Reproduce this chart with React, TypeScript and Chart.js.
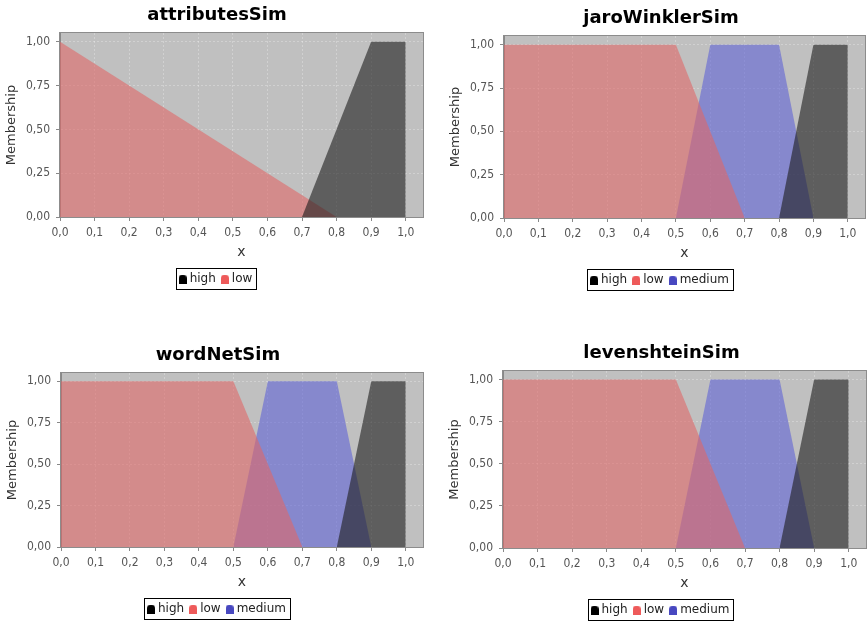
import React, { useEffect, useRef } from "react";
import { Chart, registerables } from "chart.js";

Chart.register(...registerables);

// ---------- tick values ----------
const X_TICK_VALUES = [0, 0.1, 0.2, 0.3, 0.4, 0.5, 0.6, 0.7, 0.8, 0.9, 1.0];
const Y_TICK_VALUES = [0, 0.25, 0.5, 0.75, 1.0];

// ---------- attributesSim ----------
const ATTR_HIGH_X = [0.7, 0.9, 1.0, 1.0];
const ATTR_HIGH_Y = [0, 1, 1, 0];
const ATTR_LOW_X = [0.0, 0.8];
const ATTR_LOW_Y = [1, 0];

// ---------- jaroWinklerSim ----------
const JW_HIGH_X = [0.8, 0.9, 1.0, 1.0];
const JW_HIGH_Y = [0, 1, 1, 0];
const JW_LOW_X = [0.0, 0.5, 0.7];
const JW_LOW_Y = [1, 1, 0];
const JW_MED_X = [0.5, 0.6, 0.8, 0.9];
const JW_MED_Y = [0, 1, 1, 0];

// ---------- wordNetSim ----------
const WN_HIGH_X = [0.8, 0.9, 1.0, 1.0];
const WN_HIGH_Y = [0, 1, 1, 0];
const WN_LOW_X = [0.0, 0.5, 0.7];
const WN_LOW_Y = [1, 1, 0];
const WN_MED_X = [0.5, 0.6, 0.8, 0.9];
const WN_MED_Y = [0, 1, 1, 0];

// ---------- levenshteinSim ----------
const LEV_HIGH_X = [0.8, 0.9, 1.0, 1.0];
const LEV_HIGH_Y = [0, 1, 1, 0];
const LEV_LOW_X = [0.0, 0.5, 0.7];
const LEV_LOW_Y = [1, 1, 0];
const LEV_MED_X = [0.5, 0.6, 0.8, 0.9];
const LEV_MED_Y = [0, 1, 1, 0];

// ---------- styles ----------
const SERIES_STYLE: Record<string, { fill: string; icon: string }> = {
  high: { fill: "rgba(29,29,29,0.6)", icon: "#000000" },
  low: { fill: "rgba(224,104,104,0.6)", icon: "#ee5a5a" },
  medium: { fill: "rgba(95,99,214,0.6)", icon: "#4848c0" },
};

type Series = { name: string; xs: number[]; ys: number[] };
type PanelDef = {
  title: string;
  series: Series[];
  left: number;
  top: number;
  width: number;
  plotH: number;
  padRight: number;
};

const PANELS: PanelDef[] = [
  {
    title: "attributesSim",
    series: [
      { name: "high", xs: ATTR_HIGH_X, ys: ATTR_HIGH_Y },
      { name: "low", xs: ATTR_LOW_X, ys: ATTR_LOW_Y },
    ],
    left: 0, top: 0, width: 434, plotH: 184, padRight: 11,
  },
  {
    title: "jaroWinklerSim",
    series: [
      { name: "high", xs: JW_HIGH_X, ys: JW_HIGH_Y },
      { name: "low", xs: JW_LOW_X, ys: JW_LOW_Y },
      { name: "medium", xs: JW_MED_X, ys: JW_MED_Y },
    ],
    left: 444, top: 3, width: 434, plotH: 182, padRight: 13,
  },
  {
    title: "wordNetSim",
    series: [
      { name: "high", xs: WN_HIGH_X, ys: WN_HIGH_Y },
      { name: "low", xs: WN_LOW_X, ys: WN_LOW_Y },
      { name: "medium", xs: WN_MED_X, ys: WN_MED_Y },
    ],
    left: 1, top: 340, width: 434, plotH: 174, padRight: 12,
  },
  {
    title: "levenshteinSim",
    series: [
      { name: "high", xs: LEV_HIGH_X, ys: LEV_HIGH_Y },
      { name: "low", xs: LEV_LOW_X, ys: LEV_LOW_Y },
      { name: "medium", xs: LEV_MED_X, ys: LEV_MED_Y },
    ],
    left: 443, top: 338, width: 437, plotH: 177, padRight: 14,
  },
];

const TITLE_BLOCK = 33;
const X_AXIS_H = 48;
const LEGEND_PAD = 8;
const LEGEND_H = 12 + LEGEND_PAD + 10;
const FONT = "'DejaVu Sans', Verdana, sans-serif";
const TICK_FONT = "'DejaVu Sans Condensed', 'DejaVu Sans', sans-serif";

function makeIcon(color: string): HTMLCanvasElement {
  const c = document.createElement("canvas");
  c.width = 8;
  c.height = 9;
  const ctx = c.getContext("2d")!;
  ctx.fillStyle = color;
  ctx.beginPath();
  ctx.moveTo(0, 9);
  ctx.lineTo(0, 4);
  ctx.arc(4, 4, 4, Math.PI, 0);
  ctx.lineTo(8, 9);
  ctx.closePath();
  ctx.fill();
  return c;
}

const plotDecor = {
  id: "plotDecor",
  beforeDraw(chart: any) {
    const { ctx, chartArea } = chart;
    const { left, top, width, height } = chartArea;
    ctx.save();
    ctx.fillStyle = "#c0c0c0";
    ctx.fillRect(left, top, width, height);
    ctx.restore();
  },
  afterDraw(chart: any) {
    const { ctx, chartArea, legend } = chart;
    const { left, top, width, height } = chartArea;
    ctx.save();
    ctx.strokeStyle = "#8c8c8c";
    ctx.lineWidth = 1;
    ctx.strokeRect(Math.round(left) - 0.5, Math.round(top) - 0.5, Math.round(width) + 1, Math.round(height) + 1);
    if (legend && legend.legendHitBoxes && legend.legendHitBoxes.length) {
      const boxes = legend.legendHitBoxes;
      let minL = Infinity, maxR = -Infinity, minT = Infinity, maxB = -Infinity;
      for (const b of boxes) {
        minL = Math.min(minL, b.left);
        maxR = Math.max(maxR, b.left + b.width);
        minT = Math.min(minT, b.top);
        maxB = Math.max(maxB, b.top + b.height);
      }
      ctx.strokeStyle = "#000";
      ctx.lineWidth = 1;
      const x0 = Math.round(minL - 6) + 0.5;
      const y0 = Math.round(minT - 5) + 0.5;
      const x1 = Math.round(maxR + 4) + 0.5;
      const y1 = Math.round(maxB + 4) + 0.5;
      ctx.strokeRect(x0, y0, x1 - x0, y1 - y0);
    }
    ctx.restore();
  },
};

function Panel({ def }: { def: PanelDef }) {
  const ref = useRef<HTMLCanvasElement | null>(null);
  const height = TITLE_BLOCK + def.plotH + X_AXIS_H + LEGEND_H;

  useEffect(() => {
    if (!ref.current) return;
    const datasets = def.series.map((s) => ({
      label: s.name,
      data: s.xs.map((x, i) => ({ x, y: s.ys[i] })),
      backgroundColor: SERIES_STYLE[s.name].fill,
      borderWidth: 0,
      borderColor: "rgba(0,0,0,0)",
      fill: "origin",
      pointRadius: 0,
      pointHoverRadius: 0,
      pointStyle: makeIcon(SERIES_STYLE[s.name].icon),
      tension: 0,
    }));

    const chart = new Chart(ref.current, {
      type: "line",
      data: { datasets },
      plugins: [plotDecor],
      options: {
        responsive: false,
        animation: false,
        devicePixelRatio: 1,
        events: [],
        layout: { padding: 0 },
        plugins: {
          tooltip: { enabled: false },
          title: {
            display: true,
            text: def.title,
            color: "#000",
            font: { family: FONT, size: 18, weight: "bold", lineHeight: 1.2 },
            padding: { top: 4.2, bottom: 7.2 },
          },
          legend: {
            display: true,
            position: "bottom",
            labels: {
              usePointStyle: true,
              pointStyleWidth: 2,
              boxHeight: 9,
              padding: LEGEND_PAD,
              color: "#222",
              font: { family: FONT, size: 12 },
            },
          },
        },
        scales: {
          x: {
            type: "linear",
            min: 0,
            max: 1.05,
            afterBuildTicks: (scale: any) => {
              scale.ticks = X_TICK_VALUES.map((value) => ({ value }));
            },
            afterFit: (scale: any) => {
              scale.height = X_AXIS_H;
            },
            ticks: {
              autoSkip: false,
              maxRotation: 0,
              padding: 5,
              color: "#555",
              font: { family: TICK_FONT, size: 12 },
              callback: (v: any) => Number(v).toFixed(1).replace(".", ","),
            },
            grid: {
              color: "rgba(255,255,255,0.28)",
              tickColor: "#888",
              tickLength: 4,
              tickBorderDash: [],
              lineWidth: 1,
            },
            border: { display: true, color: "#888", width: 1, dash: [2, 2] },
            title: {
              display: true,
              text: "x",
              color: "#333",
              font: { family: FONT, size: 14 },
              padding: { top: 0, bottom: 4.6 },
            },
          },
          y: {
            type: "linear",
            min: 0,
            max: 1.05,
            afterBuildTicks: (scale: any) => {
              scale.ticks = Y_TICK_VALUES.map((value) => ({ value }));
            },
            afterFit: (scale: any) => {
              scale.width = 60;
            },
            ticks: {
              autoSkip: false,
              padding: 6,
              color: "#555",
              font: { family: TICK_FONT, size: 12 },
              callback: (v: any) => Number(v).toFixed(2).replace(".", ","),
            },
            grid: {
              color: "rgba(255,255,255,0.28)",
              tickColor: "#888",
              tickLength: 4,
              tickBorderDash: [],
              lineWidth: 1,
            },
            border: { display: true, color: "#888", width: 1, dash: [2, 2] },
            title: {
              display: true,
              text: "Membership",
              color: "#333",
              font: { family: FONT, size: 13 },
              padding: { top: 4, bottom: 0 },
            },
          },
          spacer: {
            type: "linear",
            position: "right",
            display: true,
            min: 0,
            max: 1,
            afterFit: (scale: any) => {
              scale.width = def.padRight;
            },
            ticks: { display: false },
            grid: { display: false, drawOnChartArea: false },
            border: { display: false },
            title: { display: false },
          },
        },
      } as any,
    });
    return () => chart.destroy();
  }, [def]);

  return (
    <canvas
      ref={ref}
      width={def.width}
      height={height}
      style={{
        position: "absolute",
        left: def.left,
        top: def.top,
        width: def.width,
        height: height,
        display: "block",
      }}
    />
  );
}

export default function App() {
  return (
    <div
      style={{
        position: "absolute",
        left: 0,
        top: 0,
        width: 867,
        height: 623,
        overflow: "hidden",
        background: "#ffffff",
      }}
    >
      {PANELS.map((p) => (
        <Panel key={p.title} def={p} />
      ))}
    </div>
  );
}
